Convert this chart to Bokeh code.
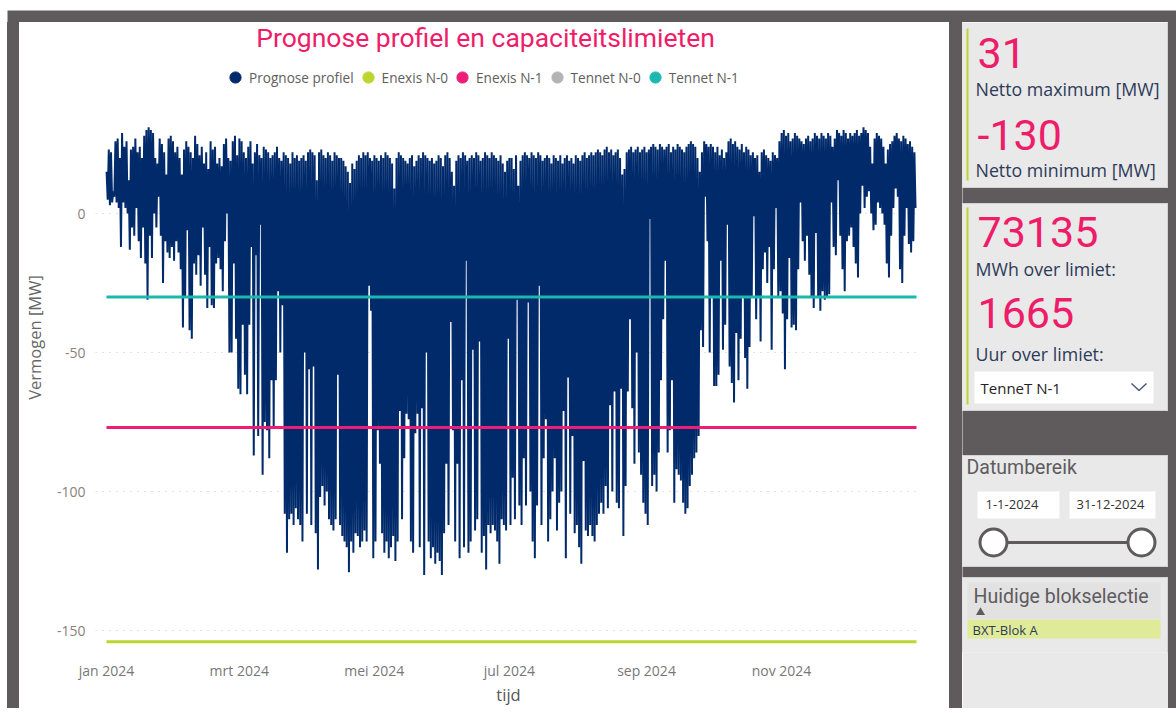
import numpy as np
from bokeh.plotting import figure
from bokeh.models import Range1d, FixedTicker, Legend, LegendItem, Label, Spacer
from bokeh.layouts import row, column
from bokeh.embed import file_html
from bokeh.resources import INLINE
from bokeh.core.properties import value

# ---------------- data (daily extremes of the hourly profile) -------------
# daily minimum [MW] (midday), Jan 1 .. Mar 31
min_q1 = [5, 3, 4, 6, 4, 2, -12, 4, 2, 0,
          -13, -5, -8, 2, -10, -16, -5, -18, -31, -8,
          -16, 0, -5, 6, -8, -25, -10, -14, -16, -12,
          -17, -10, -14, -20, -41, -30, -6, -42, -45, -18,
          -22, -15, -26, -5, -22, -34, -12, -33, -34, -18,
          -16, -20, -28, -10, 0, -50, -50, -18, -45, -63,
          -65, -40, -58, -65, -40, -12, -87, -15, -80, -4,
          -94, -75, -78, -88, -60, -77, -60, -28, -50, -33,
          -108, -122, -110, -108, -112, -106, -110, -112, -118, -50,
          -108]
# Apr 1 .. Jul 1
min_q2 = [-56, -112, -55, -115, -128, -102, -98, -105, -100, -110,
          -112, -114, -110, -58, -112, -116, -118, -120, -129, -118,
          -122, -115, -116, -120, -118, -114, -118, -26, -35, -124,
          -118, -78, -90, -115, -122, -118, -124, -120, -116, -125,
          -118, -71, -110, -88, -72, -74, -118, -122, -79, -72,
          -120, -70, -130, -50, -118, -124, -120, -126, -122, -125,
          -130, -115, -90, -112, -39, -78, -118, -90, -124, -60,
          -120, -17, -122, -118, -49, -114, -110, -46, -122, -116,
          -128, -112, -115, -112, -114, -118, -126, -110, -112, -114,
          -45, -112]
# Jul 2 .. Oct 1
min_q3 = [-95, -110, -31, -105, -112, -88, -105, -32, -100, -118,
          -124, -105, -26, -112, -88, -74, -118, -110, -100, -88,
          -114, -104, -100, -71, -124, -59, -108, -80, -115, -112,
          -120, -126, -89, -114, -116, -112, -116, -118, -112, -108,
          -104, -108, -98, -106, -69, -100, -64, -104, -106, -63,
          -116, -98, -64, -38, -70, -90, -50, -86, -94, -104,
          -108, -112, -2, -98, -94, -100, -86, -60, -38, -17,
          -86, -78, -60, -104, -92, -94, -96, -104, -108, -106,
          -98, -94, -88, -86, -80, -42, -48, 6, -10, -50,
          -30, -62]
# Oct 2 .. Dec 31
min_q4 = [-62, -58, -17, -49, -40, -4, -55, -61, -68, -43,
          -60, -45, -30, -52, -63, -48, -30, -1, -38, -30,
          -46, -20, -14, -25, -12, -49, -20, 2, -30, -28,
          -36, -56, -38, -16, -41, -40, -42, -20, 4, -10,
          -17, -8, -22, -30, -34, -7, -30, -35, -28, -31,
          -30, -29, 4, -12, -15, 12, -8, -20, -28, -10,
          -8, -5, -12, -18, -23, 0, 10, 2, 6, 8,
          0, -6, -4, 4, 2, 0, -4, -18, -23, -8,
          2, 9, 6, -20, -25, -8, 2, -11, -14, -10,
          2]

# daily maximum [MW] (night)
max_q1 = [15, 23, 22, 8, 26, 27, 20, 29, 24, 26,
          12, 23, 24, 27, 22, 24, 20, 28, 30, 31,
          30, 29, 20, 18, 27, 25, 22, 14, 27, 28,
          26, 22, 24, 20, 14, 23, 26, 24, 22, 20,
          28, 25, 21, 24, 18, 22, 16, 26, 23, 24,
          18, 20, 17, 25, 27, 20, 19, 26, 28, 21,
          27, 26, 22, 20, 24, 26, 18, 22, 25, 21,
          20, 24, 23, 22, 20, 21, 22, 24, 20, 19,
          22, 21, 20, 18, 22, 20, 21, 19, 20, 21,
          19]
max_q2 = [22, 23, 22, 21, 12, 22, 23, 21, 20, 22,
          21, 19, 22, 21, 20, 20, 19, 17, 15, 11,
          18, 16, 19, 21, 20, 22, 21, 22, 20, 19,
          21, 20, 19, 21, 20, 22, 21, 20, 18, 9,
          20, 22, 21, 20, 19, 18, 20, 21, 17, 19,
          21, 20, 22, 21, 20, 19, 20, 18, 19, 21,
          20, 17, 21, 22, 20, 15, 10, 19, 21, 20,
          22, 21, 19, 20, 21, 20, 22, 21, 19, 20,
          22, 21, 20, 22, 21, 20, 19, 21, 18, 15,
          19, 20]
max_q3 = [20, 16, 21, 10, 19, 21, 22, 21, 20, 22,
          21, 20, 22, 21, 19, 20, 21, 20, 18, 21,
          20, 19, 21, 18, 20, 21, 19, 20, 18, 21,
          20, 19, 21, 22, 20, 21, 22, 21, 22, 23,
          22, 21, 23, 24, 22, 23, 21, 22, 23, 20,
          14, 16, 22, 23, 24, 22, 23, 24, 22, 23,
          24, 22, 23, 24, 25, 24, 23, 25, 24, 23,
          24, 25, 22, 24, 23, 25, 24, 23, 22, 24,
          25, 26, 25, 24, 20, 15, 22, 26, 25, 24,
          25, 24]
max_q4 = [22, 24, 21, 23, 20, 22, 26, 27, 25, 26,
          24, 23, 25, 22, 24, 23, 21, 22, 20, 21,
          15, 22, 23, 21, 20, 19, 22, 21, 20, 26,
          29, 30, 28, 29, 26, 27, 29, 28, 27, 26,
          25, 27, 28, 26, 27, 29, 28, 27, 29, 28,
          27, 29, 28, 24, 27, 30, 29, 28, 30, 29,
          27, 29, 28, 29, 30, 28, 29, 31, 30, 29,
          24, 18, 27, 29, 28, 27, 24, 18, 23, 25,
          26, 28, 29, 27, 26, 28, 27, 25, 26, 24,
          22]

# capacity limits [MW]
limit_names = ["Enexis N-0", "Enexis N-1", "Tennet N-0", "Tennet N-1"]
limit_values = [-154, -77, None, -30]

series_name = "Prognose profiel"
chart_title = "Prognose profiel en capaciteitslimieten"

# axis ticks (day of year 2024)
month_ticks = [0, 60, 121, 182, 244, 305]
month_labels = ["jan 2024", "mrt 2024", "mei 2024", "jul 2024", "sep 2024", "nov 2024"]
y_ticks = [0, -50, -100, -150]
y_labels = ["0", "-50", "-100", "-150"]

# side panel texts
kpi_values = ["31", "-130", "73135", "1665"]
kpi_labels = ["Netto maximum [MW]", "Netto minimum [MW]", "MWh over limiet:", "Uur over limiet:"]
dropdown_text = "TenneT N-1"
date_title = "Datumbereik"
date_from, date_to = "1-1-2024", "31-12-2024"
block_title = "Huidige blokselectie"
block_items = ["BXT-Blok A"]

# ---------------- styling ----------------
DARK = "#5f5a5c"
NAVY = "#012a6b"
PINK = "#ee1c69"
GREEN = "#bcd630"
TEAL = "#1bb8b0"
GRAY = "#b4b4b4"
limit_colors = [GREEN, "#ef1c78", GRAY, TEAL]
PANEL = "#e8e9e8"
TXT = "#2e3a59"


def solid(w, h, color):
    f = figure(width=w, height=h, output_backend="svg", toolbar_location=None, title=None,
               min_border=0, background_fill_color=color, border_fill_color=color,
               outline_line_color=None, x_axis_type=None, y_axis_type=None)
    f.grid.visible = False
    return f


def strip(w, h, color):
    return Spacer(width=w, height=h, styles={"background-color": color})


# ---------------- main chart ----------------
profile_min = np.array(min_q1 + min_q2 + min_q3 + min_q4, dtype=float)
profile_max = np.array(max_q1 + max_q2 + max_q3 + max_q4, dtype=float)
days = np.arange(len(profile_min))
xs = np.empty(2 * len(days))
ys = np.empty(2 * len(days))
xs[0::2] = days + 0.05
xs[1::2] = days + 0.55
ys[0::2] = profile_max
ys[1::2] = profile_min

p = figure(width=930, height=686, output_backend="svg", toolbar_location=None,
           x_range=Range1d(-4.96, 368.25), y_range=Range1d(-157.9, 68.71),
           min_border_left=74, min_border_right=28, min_border_top=0, min_border_bottom=56,
           background_fill_color="white", border_fill_color="white",
           outline_line_color=None, title=None)

p.add_layout(Label(x=171.3, y=63.3, text=chart_title, text_align="center",
                   text_baseline="middle", text_font="Roboto", text_font_size="26.5px",
                   text_color=PINK))

p.line(xs, ys, line_color=NAVY, line_width=2.0)

for name, val, col in zip(limit_names, limit_values, limit_colors):
    if val is not None:
        p.line([days[0], days[-1] + 1], [val, val], line_color=col, line_width=3)

# legend proxies (circles)
items = []
for name, col in zip([series_name] + limit_names, [NAVY] + limit_colors):
    rr = p.scatter(x=[np.nan], y=[np.nan], marker="circle", size=12,
                   fill_color=col, line_color=col)
    items.append(LegendItem(label=name, renderers=[rr]))
legend = Legend(items=items, orientation="horizontal", location=(126, 561),
                glyph_width=28, glyph_height=28, label_standoff=-6, spacing=-8,
                padding=2, margin=0, border_line_color=None, background_fill_alpha=0,
                label_text_font="Open Sans", label_text_font_size="13.6px",
                label_text_color="#605e5c", label_height=16)
p.add_layout(legend)

p.xaxis.ticker = FixedTicker(ticks=month_ticks)
p.xaxis.major_label_overrides = {t: l for t, l in zip(month_ticks, month_labels)}
p.yaxis.ticker = FixedTicker(ticks=y_ticks)
p.yaxis.major_label_overrides = {t: l for t, l in zip(y_ticks, y_labels)}
for ax in (p.xaxis, p.yaxis):
    ax.axis_line_color = None
    ax.major_tick_line_color = None
    ax.minor_tick_line_color = None
    ax.major_tick_out = 0
    ax.minor_tick_out = 0
    ax.major_label_text_font = "Open Sans"
    ax.major_label_text_font_size = "14px"
    ax.axis_label_text_font = "Open Sans"
    ax.axis_label_text_font_style = "normal"
p.xaxis.major_label_text_color = "#777777"
p.yaxis.major_label_text_color = "#8a8179"
p.xaxis.axis_label = "tijd"
p.xaxis.axis_label_text_font_size = "16.5px"
p.xaxis.axis_label_text_color = "#555555"
p.xaxis.major_label_standoff = 8
p.xaxis.axis_label_standoff = 0
p.yaxis.axis_label = "Vermogen [MW]"
p.yaxis.axis_label_text_font_size = "16.5px"
p.yaxis.axis_label_text_color = "#666666"
p.yaxis.major_label_standoff = 10
p.yaxis.axis_label_standoff = 8
p.xgrid.grid_line_color = None
p.ygrid.grid_line_color = "#c4c4c4"
p.ygrid.grid_line_dash = "1 6"
p.ygrid.grid_line_width = 1

# ---------------- side panels (local pixel coordinates, y downward) ----------------
r = figure(width=206, height=686, output_backend="svg", toolbar_location=None, title=None,
           x_range=Range1d(0, 206), y_range=Range1d(630, 0),
           min_border_left=0, min_border_right=0, min_border_top=0, min_border_bottom=56,
           background_fill_color=PANEL, border_fill_color=PANEL, outline_line_color=None,
           x_axis_type=None, y_axis_type=None)
r.grid.visible = False

# panel outlines and dark gaps between the panels
r.quad(left=[0, 0, 0, 0], right=[205, 205, 205, 205], top=[-5, 181, 433, 555],
       bottom=[165, 388, 544, 700], fill_color=None, line_color="#d2d2d2", line_width=1)
r.quad(left=[-1, -1, -1], right=[207, 207, 207], top=[165.5, 388.5, 544.5],
       bottom=[180.5, 432.5, 554.5], fill_color=DARK, line_color=None)
# green accent bars
r.quad(left=[4, 4], right=[6, 6], top=[6, 185], bottom=[158, 382],
       fill_color=GREEN, line_color=None)
# kpi numbers
r.text(x=[15, 15, 15, 15], y=[30, 112, 209, 290], text=kpi_values,
       text_font=value("Roboto"), text_font_size="43px", text_color=PINK,
       text_baseline="middle")
r.text(x=[13, 13, 13, 13], y=[66, 147, 246, 331], text=kpi_labels,
       text_font=value("Open Sans"), text_font_size="17.8px", text_color=TXT,
       text_baseline="middle")
# dropdown
r.quad(left=[12], right=[191], top=[349], bottom=[381], fill_color="white", line_color=None)
r.text(x=[18], y=[365], text=[dropdown_text], text_font=value("Open Sans"),
       text_font_size="15px", text_color="#252423", text_baseline="middle")
r.line(x=[169, 176.5, 184], y=[361, 368, 361], line_color="#4a5a7a", line_width=1.5)
# date slicer
r.text(x=[4], y=[445], text=[date_title], text_font=value("Roboto"),
       text_font_size="19.5px", text_color="#605b5e", text_baseline="middle")
r.quad(left=[15, 107], right=[97, 193], top=[469, 469], bottom=[496, 496],
       fill_color="white", line_color=None)
r.text(x=[23, 114], y=[482, 482], text=[date_from, date_to], text_font=value("Open Sans"),
       text_font_size="13px", text_color="#333333", text_baseline="middle")
r.line(x=[31, 179], y=[520, 520], line_color=DARK, line_width=3)
r.scatter(x=[31, 179], y=[520, 520], marker="circle", size=27, fill_color="white",
          line_color=DARK, line_width=3)
# block selection
r.quad(left=[5], right=[198], top=[560], bottom=[596], fill_color="#e2e2e2", line_color=None)
r.text(x=[11], y=[574], text=[block_title], text_font=value("Roboto"),
       text_font_size="19.5px", text_color="#605b5e", text_baseline="middle")
r.scatter(x=[18], y=[590], marker="triangle", size=9, fill_color=DARK, line_color=None)
r.quad(left=[5], right=[198], top=[597], bottom=[616], fill_color="#dfeb98", line_color=None)
r.text(x=[10], y=[607], text=block_items, text_font=value("Open Sans"),
       text_font_size="13px", text_color=TXT, text_baseline="middle")

# ---------------- frame strips ----------------
top = column(solid(1176, 10, "white"), row(solid(7, 12, "white"), solid(1169, 12, DARK)))
middle = row(strip(7, 686, "white"), strip(12, 686, DARK), p, strip(13, 686, DARK), r,
             strip(8, 686, DARK))
bottom = row(solid(7, 5, "white"), solid(1169, 5, DARK))
layout = column(top, middle, bottom)

open("out.html", "w").write(file_html(layout, INLINE))
